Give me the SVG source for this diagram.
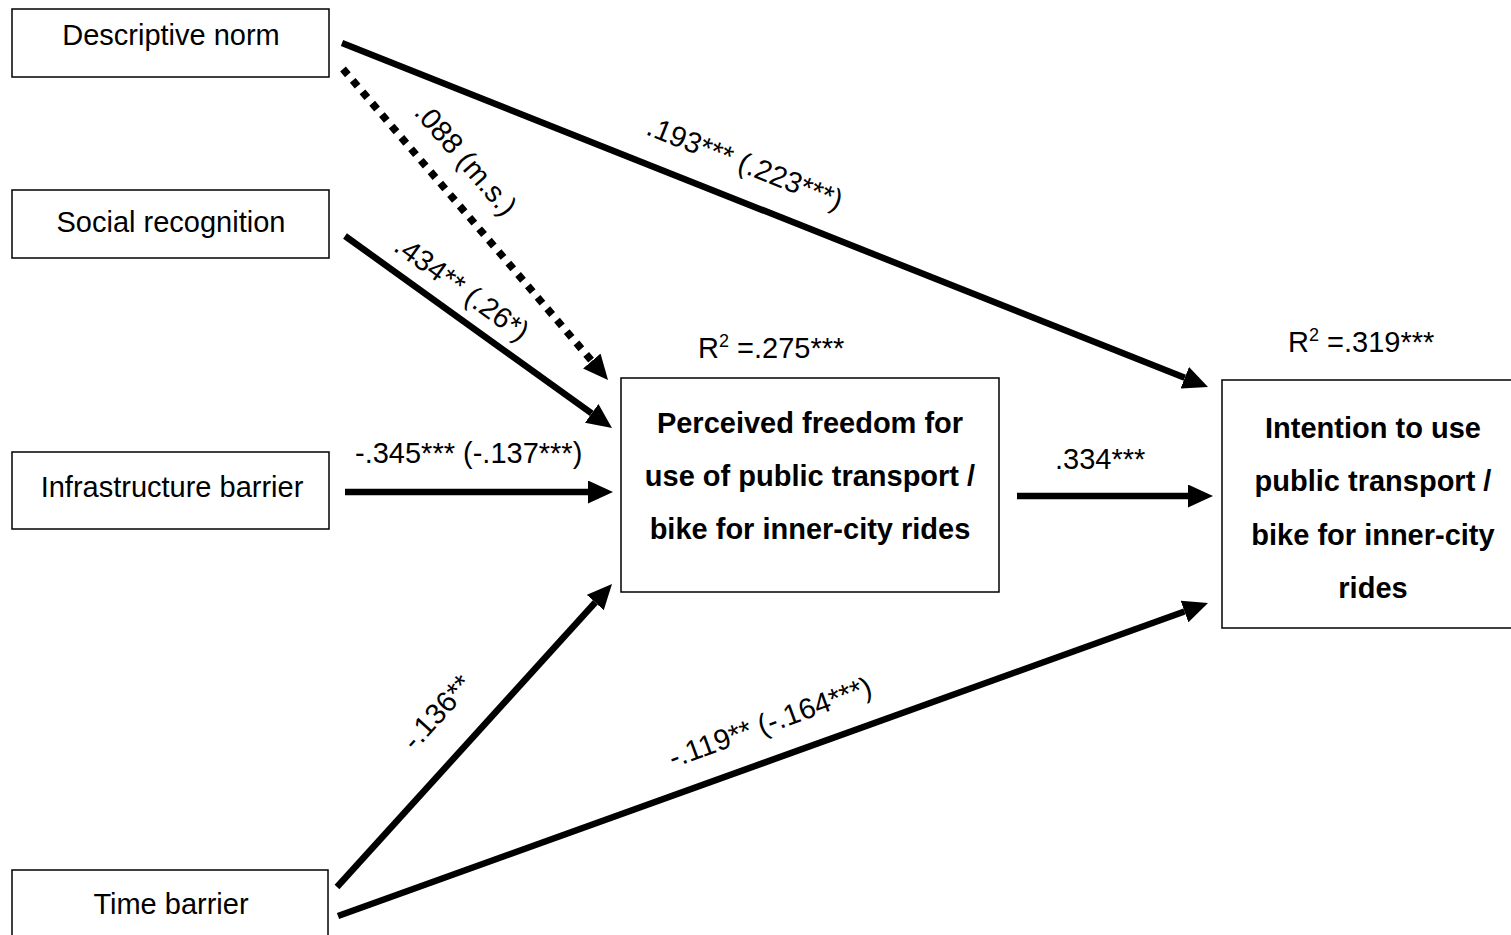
<svg xmlns="http://www.w3.org/2000/svg" width="1511" height="935" viewBox="0 0 1511 935">
<style>
.box{fill:#fff;stroke:#000;stroke-width:1.5}
.t{font-family:"Liberation Sans",Arial,sans-serif;font-size:29px;fill:#000;text-anchor:middle}
.b{font-weight:bold}
.lbl{font-family:"Liberation Sans",Arial,sans-serif;font-size:29px;fill:#000}
.ln{fill:none;stroke:#000;stroke-width:6.5}
.dot{stroke-width:7.5;stroke-dasharray:7.5 7.5}
</style>
<defs>
<marker id="ah" markerUnits="userSpaceOnUse" markerWidth="25" markerHeight="23" refX="0" refY="11.5" orient="auto">
<path d="M0,0 L25,11.5 L0,23 z" fill="#000"/>
</marker>
</defs>
<rect width="1511" height="935" fill="#fff"/>
<g id="connectors">
<line class="ln" x1="342" y1="43" x2="1184.8" y2="377.8" marker-end="url(#ah)"/>
<line class="ln dot" x1="343" y1="69" x2="591.8" y2="361" marker-end="url(#ah)"/>
<line class="ln" x1="345" y1="236" x2="591.7" y2="413.4" marker-end="url(#ah)"/>
<line class="ln" x1="345" y1="492" x2="588" y2="492" marker-end="url(#ah)"/>
<line class="ln" x1="1017" y1="496" x2="1188" y2="496" marker-end="url(#ah)"/>
<line class="ln" x1="337" y1="887" x2="595.2" y2="602.5" marker-end="url(#ah)"/>
<line class="ln" x1="338" y1="916" x2="1184.5" y2="611.5" marker-end="url(#ah)"/>
<g transform="translate(745,163) rotate(21.6)"><text class="t" x="0" y="10">.193*** (.223***)</text></g>
<g transform="translate(466,159) rotate(49)"><text class="t" x="0" y="10">.088 (m.s.)</text></g>
<g transform="translate(462,288) rotate(36)"><text class="t" x="0" y="10">.434** (.26*)</text></g>
<text class="lbl" x="355" y="463">-.345*** (-.137***)</text>
<text class="lbl" x="1055" y="469">.334***</text>
<g transform="translate(437,712) rotate(-48)"><text class="t" x="0" y="10">-.136**</text></g>
<g transform="translate(770,722) rotate(-20)"><text class="t" x="0" y="10">-.119** (-.164***)</text></g>
</g>
<g id="descriptive-norm">
<rect class="box" x="12" y="9" width="317" height="68"/>
<text class="t" x="171" y="45">Descriptive norm</text>
</g>
<g id="social-recognition">
<rect class="box" x="12" y="190" width="317" height="68"/>
<text class="t" x="171" y="232">Social recognition</text>
</g>
<g id="infrastructure-barrier">
<rect class="box" x="12" y="452" width="317" height="77"/>
<text class="t" x="172" y="497">Infrastructure barrier</text>
</g>
<g id="time-barrier">
<rect class="box" x="12" y="870" width="316" height="80"/>
<text class="t" x="171" y="914">Time barrier</text>
</g>
<g id="perceived-freedom">
<rect class="box" x="621" y="378" width="378" height="214"/>
<text class="t b" x="810" y="433">Perceived freedom for</text>
<text class="t b" x="810" y="486">use of public transport /</text>
<text class="t b" x="810" y="539">bike for inner-city rides</text>
<text class="lbl" x="698" y="358">R<tspan font-size="18" dy="-11">2</tspan><tspan dy="11"> =.275***</tspan></text>
</g>
<g id="intention">
<rect class="box" x="1222" y="380" width="300" height="248"/>
<text class="t b" x="1373" y="438">Intention to use</text>
<text class="t b" x="1373" y="491">public transport /</text>
<text class="t b" x="1373" y="545">bike for inner-city</text>
<text class="t b" x="1373" y="598">rides</text>
<text class="lbl" x="1288" y="352">R<tspan font-size="18" dy="-11">2</tspan><tspan dy="11"> =.319***</tspan></text>
</g>
</svg>
